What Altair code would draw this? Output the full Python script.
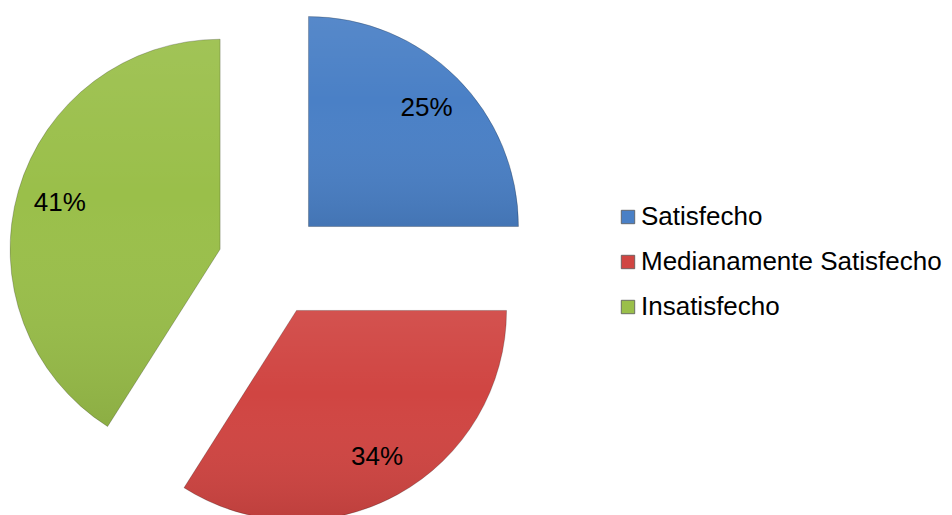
import altair as alt
import pandas as pd

# Satisfaction survey results, shown as an exploded pie
categories = ["Satisfecho", "Medianamente Satisfecho", "Insatisfecho"]
shares = [25, 34, 41]
labels = ["25%", "34%", "41%"]
colors = ["#4A80C6", "#D04542", "#9ABF4A"]

df = pd.DataFrame({
    "categoria": categories,
    "valor": shares,
    "etiqueta": labels,
    "orden": list(range(len(categories))),
})

W, H = 952, 515
CX, CY = 271, 264      # pie centre before exploding
R = 210                # slice radius
EXPLODE = 53           # distance each slice is pulled out
LABEL_R = 167          # radial position of the percentage labels

base = (
    alt.Chart(df)
    .transform_window(fin="sum(valor)", sort=[alt.SortField("orden")], frame=[None, 0])
    .transform_joinaggregate(total="sum(valor)")
    .transform_calculate(
        t0="2*PI*(datum.fin - datum.valor)/datum.total",
        t1="2*PI*datum.fin/datum.total",
    )
    .transform_calculate(mid="(datum.t0 + datum.t1)/2")
    .transform_calculate(
        cx=f"{CX} + {EXPLODE}*sin(datum.mid)",
        cy=f"{CY} - {EXPLODE}*cos(datum.mid)",
    )
    .transform_calculate(
        lx=f"datum.cx + {LABEL_R}*sin(datum.mid)",
        ly=f"datum.cy - {LABEL_R}*cos(datum.mid)",
    )
)

pos = dict(
    x=alt.X("cx:Q", scale=None, axis=None),
    y=alt.Y("cy:Q", scale=None, axis=None),
    theta=alt.Theta("t0:Q", scale=None, stack=False),
    theta2=alt.Theta2("t1:Q"),
)

slices = base.mark_arc(radius=R, stroke="rgba(0,0,0,0.22)", strokeWidth=1).encode(
    color=alt.Color(
        "categoria:N",
        scale=alt.Scale(domain=categories, range=colors),
        legend=alt.Legend(
            title=None,
            orient="none",
            legendX=615,
            legendY=204,
            padding=0,
            symbolType="square",
            symbolSize=180,
            symbolStrokeWidth=0.8,
            symbolStrokeColor="#555555",
            labelFontSize=26,
            labelFont="Liberation Sans",
            labelColor="#000000",
            labelOffset=0,
            rowPadding=19,
            labelLimit=400,
        ),
    ),
    **pos,
)

# soft vertical shading over each slice
shade = base.mark_arc(
    radius=R,
    fill=alt.Gradient(
        gradient="linear",
        stops=[
            alt.GradientStop(color="rgba(255,255,255,0.07)", offset=0),
            alt.GradientStop(color="rgba(255,255,255,0.0)", offset=0.4),
            alt.GradientStop(color="rgba(0,0,0,0.09)", offset=1),
        ],
        x1=0, x2=0, y1=0, y2=1,
    ),
).encode(**pos)

text = base.mark_text(
    fontSize=26, font="Liberation Sans", color="#000000", baseline="middle", align="center"
).encode(
    x=alt.X("lx:Q", scale=None, axis=None),
    y=alt.Y("ly:Q", scale=None, axis=None),
    text="etiqueta:N",
)

chart = (
    alt.layer(slices, shade, text)
    .properties(width=W, height=H, padding=0, autosize="none", background="white")
    .configure_view(stroke=None)
)

chart.save("out.html", embed_options={"renderer": "svg", "actions": False})
